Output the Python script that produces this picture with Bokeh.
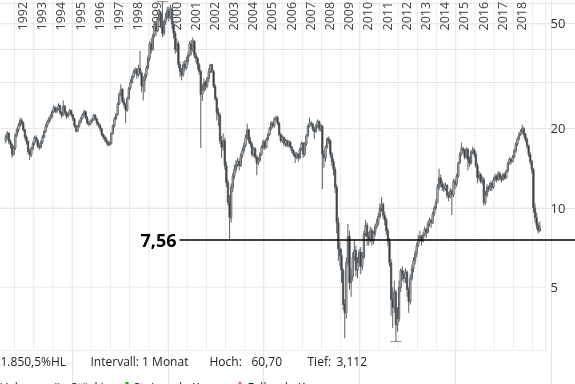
import math
from bokeh.plotting import figure
from bokeh.models import Range1d, ColumnDataSource
from bokeh.core.properties import value
from bokeh.embed import file_html
from bokeh.resources import INLINE

# ---------------- data (monthly candles, Jul 1991 .. May 2019) ----------------
START_YEAR = 1991
START_MONTH = 7
FIRST_OPEN = 18.0

CLOSE = [
    18.6, 19.2, 17.9, 17.4, 16.0, 16.9,                                   # 1991 H2
    18.9, 19.8, 20.6, 21.5, 21.0, 19.8, 18.6, 17.9, 16.4, 15.9, 16.8, 17.6,  # 1992
    18.5, 18.1, 17.2, 17.0, 17.8, 18.6, 19.5, 20.5, 21.2, 21.8, 22.2, 23.2,  # 1993
    24.0, 23.3, 23.8, 24.5, 23.0, 22.5, 24.3, 23.0, 22.3, 22.8, 23.4, 22.6,  # 1994
    21.8, 20.5, 19.6, 20.4, 21.2, 21.9, 22.6, 23.2, 22.0, 21.0, 20.8, 21.4,  # 1995
    21.6, 22.5, 21.8, 21.0, 20.6, 20.0, 19.0, 18.6, 18.2, 17.8, 17.4, 17.6,  # 1996
    19.2, 20.5, 21.8, 22.6, 24.8, 27.0, 28.2, 25.4, 24.6, 23.5, 26.0, 28.5,  # 1997
    30.0, 31.5, 32.8, 33.5, 32.0, 33.8, 32.5, 29.0, 30.5, 31.8, 34.0, 37.0,  # 1998
    42.0, 40.0, 45.0, 50.0, 47.0, 52.0, 55.0, 49.0, 46.0, 51.0, 53.0, 56.0,  # 1999
    53.0, 57.0, 50.0, 46.0, 40.0, 42.0, 35.0, 33.0, 32.0, 35.0, 34.0, 36.0,  # 2000
    38.0, 42.0, 40.0, 43.0, 38.0, 37.0, 35.0, 33.0, 27.0, 28.0, 30.0, 29.0,  # 2001
    31.0, 33.0, 35.0, 33.0, 29.0, 26.0, 23.0, 22.5, 18.0, 17.0, 18.0, 14.5,  # 2002
    12.5, 10.5, 9.2, 12.0, 13.2, 14.0, 14.6, 15.0, 14.5, 15.8, 16.5, 17.3,   # 2003
    18.5, 19.8, 18.0, 17.5, 16.0, 16.8, 15.6, 14.8, 15.2, 16.0, 17.0, 17.8,  # 2004
    17.0, 18.2, 19.0, 20.0, 21.0, 20.5, 21.8, 22.0, 21.0, 19.0, 18.0, 18.5,  # 2005
    17.5, 18.0, 17.3, 17.8, 17.0, 16.5, 16.0, 15.6, 16.0, 15.5, 16.8, 17.6,  # 2006
    16.0, 17.5, 18.8, 20.5, 21.0, 20.8, 20.0, 19.5, 20.5, 21.3, 20.0, 20.5,  # 2007
    16.0, 15.5, 17.0, 18.3, 18.0, 16.0, 15.0, 14.0, 12.0, 8.8, 7.0, 6.6,     # 2008
    5.8, 4.3, 4.0, 6.2, 7.8, 5.2, 5.5, 6.5, 6.9, 5.8, 6.2, 6.8,              # 2009
    6.0, 6.5, 8.0, 8.6, 7.8, 7.6, 8.2, 7.5, 8.0, 8.5, 8.8, 9.3,              # 2010
    10.0, 10.3, 9.4, 9.0, 8.2, 7.5, 6.2, 4.5, 4.2, 4.8, 3.6, 3.8,            # 2011
    5.0, 5.8, 5.6, 5.4, 5.7, 4.9, 4.4, 5.4, 5.9, 6.3, 6.7, 7.2,              # 2012
    7.6, 7.8, 7.5, 7.9, 8.3, 8.1, 8.7, 9.0, 8.8, 9.5, 10.0, 10.5,            # 2013
    12.0, 13.0, 12.4, 12.0, 11.8, 12.2, 11.2, 11.0, 11.6, 11.2, 12.6, 12.3,  # 2014
    13.2, 14.8, 16.0, 16.8, 16.5, 15.6, 16.7, 15.2, 14.8, 16.3, 16.6, 16.0,  # 2015
    14.5, 13.0, 13.4, 12.6, 12.8, 10.5, 11.2, 12.0, 11.8, 12.4, 12.0, 12.8,  # 2016
    13.2, 12.8, 13.5, 13.0, 12.8, 13.4, 13.0, 13.8, 14.8, 15.3, 15.0, 15.6,  # 2017
    16.5, 17.5, 18.3, 19.0, 19.5, 20.0, 19.0, 18.2, 17.2, 16.0, 15.0, 14.0,  # 2018
    10.0, 9.2, 8.6, 8.2, 8.4,                                               # 2019
]

HIGH = [
    19.0, 19.6, 19.4, 18.2, 17.6, 17.2,
    19.2, 20.2, 21.0, 22.0, 21.9, 21.3, 20.0, 18.9, 18.1, 16.8, 17.1, 17.9,
    18.8, 18.9, 18.4, 17.6, 18.1, 18.9, 19.8, 20.9, 21.6, 22.2, 22.7, 23.6,
    24.6, 24.3, 24.2, 25.0, 24.7, 23.3, 25.6, 24.6, 23.3, 23.2, 23.8, 23.6,
    22.8, 22.0, 20.7, 20.7, 21.6, 22.2, 22.9, 23.6, 23.4, 22.3, 21.4, 21.7,
    22.0, 22.8, 22.7, 22.0, 21.3, 20.9, 20.2, 19.2, 18.9, 18.5, 18.0, 17.9,
    19.4, 20.8, 22.2, 23.0, 25.2, 27.5, 29.5, 28.5, 26.2, 25.0, 26.5, 28.9,
    30.8, 32.0, 33.5, 34.2, 34.0, 35.0, 39.5, 33.0, 31.5, 32.5, 34.8, 38.0,
    43.0, 44.0, 46.0, 51.0, 51.0, 53.0, 57.0, 56.0, 60.7, 52.0, 55.0, 58.0,
    58.0, 59.0, 58.0, 51.0, 47.0, 44.0, 43.0, 36.0, 34.0, 36.0, 36.5, 37.5,
    39.0, 43.0, 43.5, 44.4, 43.5, 39.0, 37.5, 35.5, 33.5, 29.5, 31.0, 30.5,
    31.5, 34.0, 35.3, 35.2, 33.5, 29.5, 26.5, 24.0, 23.0, 18.8, 19.2, 18.5,
    15.0, 12.8, 11.2, 12.4, 13.6, 14.6, 15.2, 15.5, 15.4, 16.2, 17.0, 17.8,
    19.0, 20.9, 20.0, 18.6, 17.8, 17.1, 17.0, 15.9, 15.6, 16.3, 17.3, 18.2,
    18.1, 18.5, 19.3, 20.3, 21.4, 21.3, 22.1, 22.4, 22.4, 21.2, 19.3, 18.9,
    18.7, 18.3, 18.2, 18.1, 18.0, 17.2, 16.7, 16.3, 16.3, 16.2, 17.0, 17.9,
    17.8, 17.8, 19.1, 20.8, 22.0, 21.4, 21.1, 20.3, 20.9, 21.7, 21.5, 20.9,
    20.6, 16.6, 17.3, 18.6, 18.7, 18.2, 16.3, 15.4, 14.3, 12.3, 9.2, 7.4,
    7.0, 5.9, 4.5, 6.5, 8.7, 8.2, 5.9, 6.8, 7.6, 7.2, 6.5, 7.0,
    7.1, 6.8, 8.2, 9.0, 8.8, 8.1, 8.5, 8.4, 8.2, 8.7, 9.1, 9.6,
    10.4, 11.0, 10.5, 9.7, 9.2, 8.4, 7.7, 6.4, 5.0, 5.3, 4.9, 4.2,
    5.3, 5.9, 6.0, 5.8, 5.9, 5.8, 5.0, 5.6, 6.1, 6.5, 6.9, 7.4,
    7.9, 8.2, 7.9, 8.1, 8.5, 8.4, 8.9, 9.2, 9.1, 9.7, 10.2, 10.8,
    12.3, 14.1, 13.4, 12.7, 12.4, 12.5, 12.3, 11.5, 11.9, 11.8, 12.9, 12.9,
    13.5, 15.0, 16.3, 17.7, 17.1, 16.8, 17.0, 16.9, 15.7, 16.6, 17.1, 16.9,
    16.4, 14.8, 13.8, 13.6, 13.2, 13.1, 11.6, 12.3, 12.2, 12.6, 12.6, 13.1,
    13.5, 13.4, 13.8, 13.7, 13.3, 13.6, 13.6, 14.0, 15.0, 15.6, 15.5, 15.9,
    16.8, 17.8, 18.6, 19.4, 19.9, 20.7, 20.3, 19.3, 18.5, 17.4, 16.3, 15.2,
    14.2, 10.4, 9.6, 8.8, 8.9,
]

LOW = [
    17.6, 18.2, 17.5, 16.8, 15.5, 15.8,
    16.6, 18.5, 19.4, 20.3, 20.6, 19.5, 18.2, 17.4, 16.0, 15.2, 15.6, 16.5,
    17.3, 17.7, 16.9, 16.6, 16.8, 17.5, 18.4, 19.3, 20.2, 20.9, 21.4, 21.9,
    22.9, 22.9, 22.9, 23.5, 22.6, 21.9, 22.3, 22.7, 21.8, 22.0, 22.6, 22.2,
    21.4, 20.2, 19.3, 19.4, 20.2, 21.0, 21.7, 22.3, 21.7, 20.7, 20.4, 20.6,
    21.0, 21.4, 21.5, 20.6, 20.2, 19.6, 18.7, 18.2, 17.8, 17.4, 17.1, 17.2,
    17.4, 19.0, 20.2, 21.5, 22.4, 24.6, 26.5, 25.0, 24.0, 21.0, 23.2, 25.8,
    28.0, 29.6, 31.0, 32.2, 31.0, 31.5, 31.8, 27.5, 25.6, 27.5, 31.2, 33.5,
    36.0, 38.5, 39.5, 44.5, 45.0, 46.5, 51.0, 48.0, 44.5, 45.0, 49.5, 52.0,
    51.0, 52.0, 48.0, 44.0, 38.5, 39.0, 34.0, 31.5, 30.5, 31.5, 33.0, 33.5,
    35.0, 37.5, 38.0, 39.0, 37.0, 35.5, 33.5, 32.0, 16.9, 25.5, 27.5, 28.0,
    28.5, 30.0, 32.5, 32.5, 28.5, 25.5, 21.5, 20.5, 17.5, 15.5, 16.5, 14.0,
    12.0, 10.2, 7.56, 8.8, 11.5, 12.9, 13.6, 14.3, 13.9, 14.3, 15.5, 16.2,
    17.0, 18.2, 17.6, 17.0, 15.6, 15.7, 15.3, 13.3, 14.5, 15.0, 15.8, 16.7,
    16.6, 16.8, 17.9, 18.8, 19.7, 20.1, 20.2, 21.3, 20.6, 18.7, 17.7, 17.7,
    17.2, 17.1, 17.0, 17.0, 16.7, 16.1, 15.7, 14.8, 15.3, 15.0, 15.3, 16.5,
    15.5, 15.7, 17.2, 18.6, 20.2, 20.3, 19.6, 18.3, 19.3, 20.2, 19.5, 19.5,
    11.8, 14.2, 15.0, 16.8, 17.5, 15.5, 14.4, 13.3, 11.4, 8.0, 6.3, 6.0,
    5.2, 4.1, 3.2, 3.8, 6.0, 4.9, 4.6, 5.3, 6.3, 5.5, 5.4, 6.0,
    5.6, 5.8, 6.4, 7.8, 7.2, 7.2, 7.4, 7.2, 7.3, 7.8, 8.3, 8.6,
    9.1, 9.7, 9.1, 8.6, 7.9, 7.2, 6.0, 3.9, 3.5, 4.0, 3.112, 3.4,
    3.7, 4.8, 5.3, 5.2, 5.2, 4.6, 4.0, 4.3, 5.3, 5.7, 6.1, 6.5,
    7.1, 7.4, 7.2, 7.4, 7.8, 7.7, 8.0, 8.5, 8.4, 8.7, 9.3, 9.8,
    10.4, 11.7, 12.0, 11.6, 11.5, 11.6, 10.9, 10.6, 10.9, 9.4, 11.0, 11.8,
    12.0, 13.0, 14.7, 15.8, 16.0, 15.3, 15.4, 13.9, 14.3, 14.6, 16.0, 15.6,
    14.2, 12.4, 12.7, 12.4, 12.3, 10.2, 10.3, 11.0, 11.5, 11.6, 11.6, 11.8,
    12.6, 12.5, 12.7, 12.7, 12.5, 12.7, 12.8, 12.9, 13.6, 14.6, 14.6, 14.9,
    15.4, 16.2, 17.2, 18.0, 18.8, 19.2, 18.6, 17.8, 16.8, 15.6, 14.6, 13.5,
    9.6, 8.8, 8.3, 8.0, 8.1,
]

GRID_YEARS = list(range(1992, 2020))
YEAR_LABELS = [str(y) for y in range(1992, 2019)]
Y_TICKS = [5, 10, 20, 50]
Y_TICK_LABELS = ["5", "10", "20", "50"]
LEVEL = 7.56
LEVEL_LABEL = "7,56"
INFO_TEXTS = ["1.850,5%HL", "Intervall: 1 Monat", "Hoch:", "60,70", "Tief:", "3,112"]
LEGEND_TEXTS = ["Volumen (in Stück)", "Steigende Kurse", "Fallende Kurse"]

assert len(CLOSE) == len(HIGH) == len(LOW)

# ---------------- layout (pixel geometry of the reference) ----------------
W, H = 575, 384
PX_YEAR = 19.19      # px per year
PX_1992 = 14.0       # px of Jan 1992
PX_OCT = 79.3        # px per doubling (log scale)
PY_10 = 207.5        # px of value 10
PLOT_RIGHT = 545
PLOT_BOTTOM = 350


def xd(px):
    return 1992 + (px - PX_1992) / PX_YEAR


def yd(py):
    return 10 * 2 ** ((PY_10 - py) / PX_OCT)


FONT = value("Open Sans")
GRID = "#ebebeb"
WICK = "#5a6064"
DOWN_FILL = "#151515"

p = figure(width=W, height=H, x_range=Range1d(xd(0), xd(W)),
           y_range=Range1d(yd(H), yd(0)), y_axis_type="log",
           x_axis_location=None, y_axis_location=None, title=None,
           output_backend="svg", toolbar_location=None, min_border=0,
           outline_line_color=None, background_fill_color="white",
           border_fill_color="white")
p.styles = {"position": "fixed", "left": "0px", "top": "0px"}

# grid
p.segment(x0=GRID_YEARS, x1=GRID_YEARS, y0=[yd(PLOT_BOTTOM)] * len(GRID_YEARS),
          y1=[yd(0)] * len(GRID_YEARS), line_color=GRID, line_width=1)
p.segment(x0=[xd(0)] * len(Y_TICKS), x1=[xd(PLOT_RIGHT)] * len(Y_TICKS),
          y0=Y_TICKS, y1=Y_TICKS, line_color=GRID, line_width=1)
p.segment(x0=[xd(PLOT_RIGHT)], x1=[xd(PLOT_RIGHT)], y0=[yd(PLOT_BOTTOM)], y1=[yd(0)],
          line_color=GRID, line_width=1)
p.segment(x0=[xd(0)], x1=[xd(PLOT_RIGHT)], y0=[yd(PLOT_BOTTOM)], y1=[yd(PLOT_BOTTOM)],
          line_color=GRID, line_width=1)

# year labels (rotated)
lab_years = [int(s) for s in YEAR_LABELS]
p.text(x=[y + 8 / PX_YEAR for y in lab_years], y=[yd(30)] * len(lab_years),
       text=YEAR_LABELS, angle=math.pi / 2, text_align="left", text_baseline="middle",
       text_font=FONT, text_font_size="12.5px", text_color="#444444")

# candles
n = len(CLOSE)
t = [START_YEAR + (START_MONTH - 1 + i + 0.5) / 12 for i in range(n)]
opens = [FIRST_OPEN] + CLOSE[:-1]
src = ColumnDataSource(dict(
    t=t, high=HIGH, low=LOW,
    top=[max(o, c) for o, c in zip(opens, CLOSE)],
    bottom=[min(o, c) for o, c in zip(opens, CLOSE)],
    fill=["white" if c >= o else DOWN_FILL for o, c in zip(opens, CLOSE)],
))
p.segment(x0="t", x1="t", y0="low", y1="high", source=src, line_color=WICK, line_width=1)
p.vbar(x="t", width=0.8 / 12, top="top", bottom="bottom", fill_color="fill",
       line_color=WICK, line_width=1, source=src)

# high / low ticks
i_hi = HIGH.index(max(HIGH))
i_lo = LOW.index(min(LOW))
tick = 5.5 / PX_YEAR
p.segment(x0=[t[i_hi] - tick, t[i_lo] - tick], x1=[t[i_hi] + tick, t[i_lo] + tick],
          y0=[HIGH[i_hi], LOW[i_lo]], y1=[HIGH[i_hi], LOW[i_lo]],
          line_color="#8a8f93", line_width=1)

# level line
p.segment(x0=[xd(179)], x1=[xd(W)], y0=[LEVEL], y1=[LEVEL], line_color="black", line_width=1.3)
p.text(x=[xd(176)], y=[LEVEL], text=[LEVEL_LABEL], text_align="right", text_baseline="middle",
       text_font=FONT, text_font_size="18px", text_font_style="bold", text_color="black")

# right axis labels
p.text(x=[xd(550)] * len(Y_TICKS), y=Y_TICKS, text=Y_TICK_LABELS, text_align="left",
       text_baseline="middle", text_font=FONT, text_font_size="13px", text_color="#333333")

# info line
info_px = [0, 90, 209, 251, 307, 336]
p.text(x=[xd(v) for v in info_px], y=[yd(361)] * len(INFO_TEXTS), text=INFO_TEXTS,
       text_align="left", text_baseline="middle", text_font=FONT, text_font_size="12px",
       text_color="#222222")

# legend line (cut off at the bottom, as in the reference)
leg_px = [0, 133, 247]
p.text(x=[xd(v) for v in leg_px], y=[yd(387)] * len(LEGEND_TEXTS), text=LEGEND_TEXTS,
       text_align="left", text_baseline="middle", text_font=FONT, text_font_size="12px",
       text_color="#222222")
p.rect(x=[xd(126.5), xd(239.5)], y=[yd(386)] * 2, width=3, height=9,
       width_units="screen", height_units="screen",
       fill_color=["#00b400", "#ff5a6e"], line_color=None)

open("out.html", "w").write(file_html(p, INLINE))
